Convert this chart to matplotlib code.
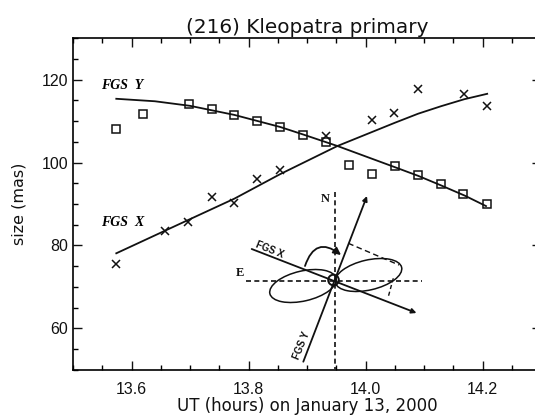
### (216) Kleopatra primary: size vs. UT, with the FGS orientation sketch

import numpy as np
from matplotlib import pyplot as plt
from matplotlib.patches import Ellipse, Circle, FancyArrowPatch
from matplotlib.ticker import MultipleLocator

plt.rcParams['font.family'] = ['Liberation Sans', 'DejaVu Sans']

# squares: FGS Y
y_ut = [13.574, 13.619, 13.698, 13.737, 13.776, 13.815, 13.854, 13.893,
        13.933, 13.971, 14.011, 14.050, 14.089, 14.129, 14.167, 14.208]
y_size = [108.1, 111.8, 114.2, 112.9, 111.6, 110.1, 108.6, 106.7,
          105.0, 99.3, 97.3, 99.1, 96.9, 94.8, 92.4, 90.1]

# crosses: FGS X
x_ut = [13.574, 13.658, 13.697, 13.737, 13.776, 13.815, 13.854,
        13.933, 14.011, 14.049, 14.090, 14.169, 14.208]
x_size = [75.6, 83.5, 85.7, 91.6, 90.3, 96.0, 98.2,
          106.3, 110.2, 112.0, 117.7, 116.6, 113.6]

# fitted curves
y_fit_ut = [13.574, 13.640, 13.700, 13.776, 13.854, 13.893, 13.952, 14.000,
            14.050, 14.090, 14.129, 14.170, 14.206]
y_fit_size = [115.4, 114.8, 113.7, 111.5, 108.6, 106.8, 104.0, 101.5,
              98.9, 96.8, 94.5, 92.0, 89.5]
x_fit_ut = [13.574, 13.658, 13.776, 13.854, 13.952, 14.050, 14.090, 14.129,
            14.169, 14.208]
x_fit_size = [78.1, 83.6, 91.3, 97.2, 104.0, 109.6, 111.8, 113.6,
              115.3, 116.6]

W, H = 535, 416
fig = plt.figure(figsize=(W / 100, H / 100), dpi=100)

# axes box in pixels, the right spine falls just past the edge of the page
left, right, top, bottom = 73, 541, 38.3, 369.7
ax = fig.add_axes([left / W, 1 - bottom / H, (right - left) / W, (bottom - top) / H])

ink = '#111111'
ax.plot(y_fit_ut, y_fit_size, color=ink, lw=1.3)
ax.plot(x_fit_ut, x_fit_size, color=ink, lw=1.3)
ax.plot(y_ut, y_size, ls='none', marker='s', ms=5.6, mfc='none', mec=ink, mew=1.1)
ax.plot(x_ut, x_size, ls='none', marker='x', ms=5.6, color=ink, mew=1.1)

ax.set_xlim(13.5, 14.3)
ax.set_ylim(50, 130)
ax.xaxis.set_major_locator(MultipleLocator(0.2))
ax.xaxis.set_minor_locator(MultipleLocator(0.05))
ax.yaxis.set_major_locator(MultipleLocator(20))
ax.yaxis.set_minor_locator(MultipleLocator(5))
ax.tick_params(which='major', direction='in', top=True, right=True, length=6.5,
               width=1, labelsize=11.5, colors=ink)
ax.tick_params(which='minor', direction='in', top=True, right=True, length=3.3, width=1)
ax.tick_params(axis='x', which='major', pad=9)
ax.tick_params(axis='y', which='major', pad=3.5)
for s in ax.spines.values():
    s.set_linewidth(1.2)

ax.set_title('(216) Kleopatra primary', fontsize=14.4, pad=3.6, color=ink,
             family='DejaVu Sans')
ax.set_xlabel('UT (hours) on January 13, 2000', fontsize=12, labelpad=-0.5, color=ink,
              family='DejaVu Sans')
ax.set_ylabel('size (mas)', fontsize=11.5, labelpad=11, color=ink, family='DejaVu Sans')

ax.text(13.548, 118.7, 'FGS  Y', family='Liberation Serif', style='italic',
        weight='bold', fontsize=10, va='center')
ax.text(13.548, 85.5, 'FGS  X', family='Liberation Serif', style='italic',
        weight='bold', fontsize=10, va='center')

###############################################################################
### orientation sketch, overlaid in pixel coordinates
###############################################################################

sk = fig.add_axes([0, 0, 1, 1])
sk.set_xlim(0, W)
sk.set_ylim(H, 0)
sk.axis('off')
sk.patch.set_alpha(0)

sk.plot([335, 335], [192, 369], color=ink, lw=1.2, ls=(0, (3, 2)))
sk.plot([246, 422], [280.7, 280.7], color=ink, lw=1.2, ls=(0, (3, 2)))
sk.plot([348.3, 399], [243.3, 265], color=ink, lw=1, ls=(0, (4, 2.5)))
sk.plot([393.3, 388.3], [278.3, 296.7], color=ink, lw=1, ls=(0, (3, 2)))

for a, b in [((303.3, 361.7), (367, 196)), ((251.7, 249), (416.5, 313))]:
    sk.add_patch(FancyArrowPatch(a, b, arrowstyle='-|>', mutation_scale=7,
                                 color=ink, lw=1.3, shrinkA=0, shrinkB=0))

sk.add_patch(Ellipse((368.5, 275), 68, 30, angle=-13, fill=False, ec=ink, lw=1.1))
sk.add_patch(Ellipse((303, 286), 68, 30, angle=-13, fill=False, ec=ink, lw=1.1))
sk.add_patch(Circle((333.5, 280), 5.3, fill=False, ec=ink, lw=1.4))

# curved arrow from the FGS X axis round to north
sk.add_patch(FancyArrowPatch((305, 266), (341, 255), connectionstyle='arc3,rad=-0.7',
                             arrowstyle='-|>', mutation_scale=11, color=ink, lw=1.3,
                             shrinkA=0, shrinkB=0))

sk.text(325.5, 198.5, 'N', family='Liberation Serif', weight='bold', fontsize=9,
        ha='center', va='center', color=ink)
sk.text(240, 273.5, 'E', family='Liberation Serif', weight='bold', fontsize=9,
        ha='center', va='center', color=ink)
sk.text(270, 250, 'FGS X', weight='bold', fontsize=7, rotation=-22,
        ha='center', va='center', color=ink)
sk.text(302, 345, 'FGS Y', weight='bold', fontsize=7, rotation=68,
        ha='center', va='center', color=ink)

fig.savefig('out.png', dpi=100)
